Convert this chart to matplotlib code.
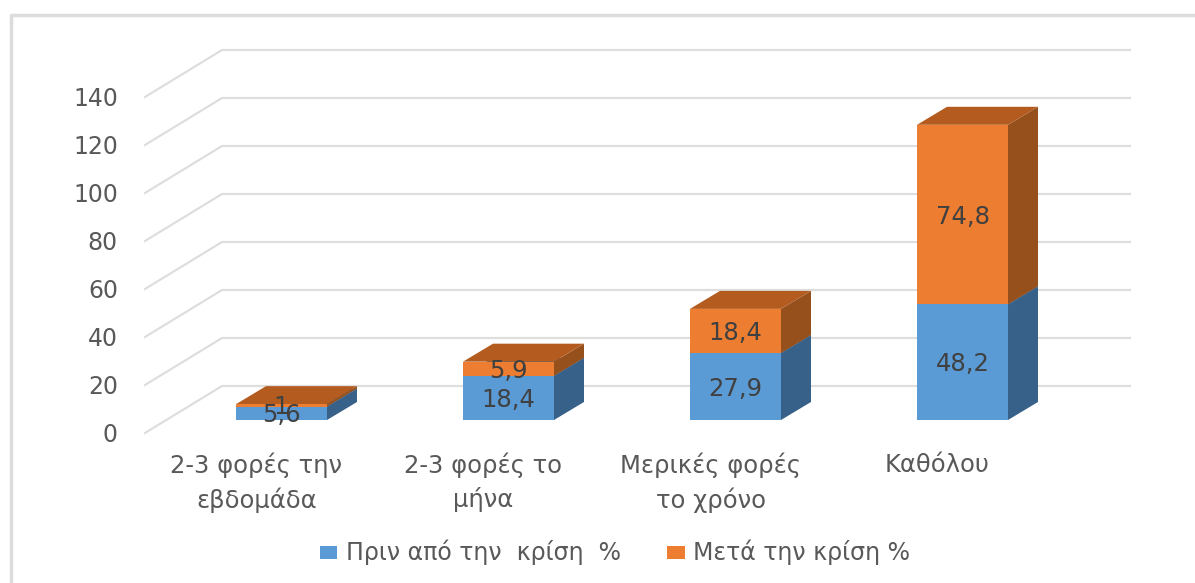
import matplotlib
matplotlib.use("Agg")
import matplotlib.pyplot as plt
from matplotlib.patches import Polygon, Rectangle

CATEGORIES = ["2-3 φορές την\nεβδομάδα", "2-3 φορές το\nμήνα", "Μερικές φορές\nτο χρόνο", "Καθόλου"]
BEFORE = [5.6, 18.4, 27.9, 48.2]
AFTER = [1, 5.9, 18.4, 74.8]
BEFORE_LABELS = ["5,6", "18,4", "27,9", "48,2"]
AFTER_LABELS = ["1", "5,9", "18,4", "74,8"]
Y_TICKS = [0, 20, 40, 60, 80, 100, 120, 140]
SERIES_NAMES = ["Πριν από την  κρίση  %", "Μετά την κρίση %"]

WIDTH, HEIGHT = 1195, 583
X0, X_STEP = 281.5, 227.0  # pixel centre of first bar, pixels between bars
Y0, Y_SCALE = 420.0, 2.4  # pixel row of value 0, pixels per unit

BAR_W = 91 / X_STEP
DEPTH_X = 30 / X_STEP
DEPTH_Y = 18 / Y_SCALE

BLUE = ("#5B9BD5", "#3F6C95", "#38618A")
ORANGE = ("#ED7D31", "#B45C20", "#95501B")
GRID = "#DEDEDE"
TEXT = "#595959"

plt.rcParams["font.family"] = ["DejaVu Sans"]


def px_x(px):
    return (px - X0) / X_STEP


def px_y(px):
    return (Y0 - px) / Y_SCALE


def add_bar(ax, i, bottom, height, colors):
    """Draws one 3D looking bar segment: side, top and front faces."""
    left, right = i - BAR_W / 2, i + BAR_W / 2
    top = bottom + height
    ax.add_patch(Polygon(
        [(right, bottom), (right + DEPTH_X, bottom + DEPTH_Y),
         (right + DEPTH_X, top + DEPTH_Y), (right, top)],
        facecolor=colors[2], edgecolor="none", zorder=3))
    ax.add_patch(Polygon(
        [(left, top), (right, top),
         (right + DEPTH_X, top + DEPTH_Y), (left + DEPTH_X, top + DEPTH_Y)],
        facecolor=colors[1], edgecolor="none", zorder=3))
    ax.add_patch(Rectangle((left, bottom), BAR_W, height,
                           facecolor=colors[0], edgecolor="none", zorder=4))


fig = plt.figure(figsize=(WIDTH / 100, HEIGHT / 100), dpi=100)
ax = fig.add_axes([0, 0, 1, 1])
ax.set_xlim(px_x(0), px_x(WIDTH))
ax.set_ylim(px_y(HEIGHT), px_y(0))
ax.axis("off")

# outer chart frame
ax.plot([px_x(11), px_x(11), px_x(WIDTH + 5)],
        [px_y(HEIGHT + 5), px_y(15), px_y(15)],
        color="#DCDCDC", lw=2.5, zorder=1)

# gridlines: slanted part on the side wall, flat part on the back wall
front_off = px_y(433)
back_off = px_y(386)
for tick in Y_TICKS:
    ax.plot([px_x(145), px_x(222), px_x(1130)],
            [tick + front_off, tick + back_off, tick + back_off],
            color=GRID, lw=1.6, zorder=2, solid_joinstyle="miter")
    ax.text(px_x(118), tick + front_off - 2 / Y_SCALE, str(tick),
            ha="right", va="center", fontsize=17, color=TEXT)

for i, (before, after) in enumerate(zip(BEFORE, AFTER)):
    add_bar(ax, i, 0, before, BLUE)
    add_bar(ax, i, before, after, ORANGE)
    ax.text(i, before / 2 - 2 / Y_SCALE, BEFORE_LABELS[i], ha="center", va="center",
            fontsize=17.5, color="#404040", zorder=5)
    ax.text(i, before + after / 2 - 2 / Y_SCALE, AFTER_LABELS[i], ha="center", va="center",
            fontsize=17.5, color="#404040", zorder=5)
    ax.text(i - 25 / X_STEP, px_y(453), CATEGORIES[i],
            ha="center", va="top", fontsize=17.5, color=TEXT,
            linespacing=1.45)

# legend, placed by hand to sit where the original does
ax.add_patch(Rectangle((px_x(320), px_y(559)), 17 / X_STEP, 13 / Y_SCALE,
                       facecolor=BLUE[0], edgecolor="none"))
ax.text(px_x(346), px_y(552), SERIES_NAMES[0],
        ha="left", va="center", fontsize=17, color=TEXT)
ax.add_patch(Rectangle((px_x(667), px_y(559)), 18 / X_STEP, 13 / Y_SCALE,
                       facecolor=ORANGE[0], edgecolor="none"))
ax.text(px_x(693), px_y(552), SERIES_NAMES[1],
        ha="left", va="center", fontsize=17, color=TEXT)

fig.savefig("out.png", dpi=100)
